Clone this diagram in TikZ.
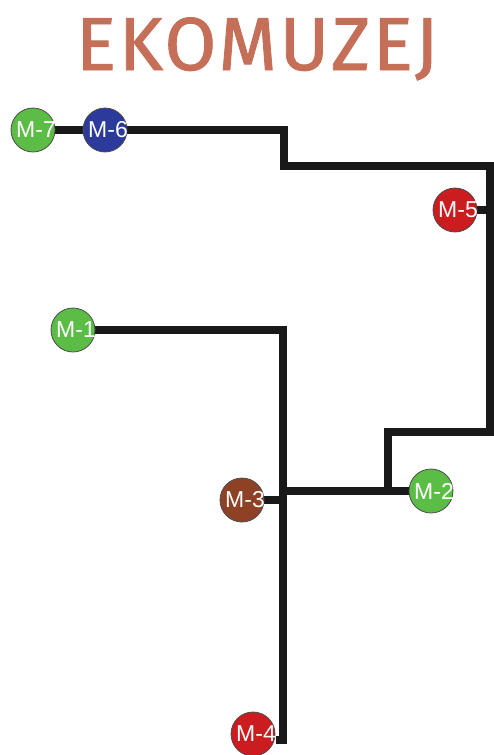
\documentclass[tikz,border=0pt]{standalone}
\usepackage{fontspec}
\setmainfont{Liberation Sans}
\newfontfamily\titlefont[LetterSpace=3.5, FakeBold=1.2]{Fira Sans}
\definecolor{titlecol}{HTML}{C56E58}
\definecolor{mgreen}{HTML}{5CBD46}
\definecolor{mblue}{HTML}{2C3B9B}
\definecolor{mred}{HTML}{CB1C20}
\definecolor{mbrown}{HTML}{8D4226}
\tikzset{
  track/.style={line width=7.5pt, line join=miter, black!90},
  stop/.style={circle, draw=black!70, line width=0.8pt, minimum size=44pt, inner sep=0pt},
  stoplabel/.style={text=white, font=\fontsize{23}{23}\selectfont, inner sep=0pt, xshift=3pt}
}
\begin{document}
\begin{tikzpicture}[x=1pt, y=-1pt]
\useasboundingbox (0,0) rectangle (494,755);
% title
\node[text=titlecol, font=\titlefont\fontsize{75}{75}\selectfont, anchor=base] (title) at (257,70) {EKOMUZEJ};
% stations (positions only)
\coordinate (p7) at (33,130);
\coordinate (p6) at (105,130);
\coordinate (p5) at (455,210);
\coordinate (p1) at (73,330);
\coordinate (p3) at (242,500);
\coordinate (p2) at (431,491);
\coordinate (p4) at (253,734);
% junctions
\coordinate (a) at (284,130);
\coordinate (b) at (284,166);
\coordinate (c) at (500,166);
\coordinate (r) at (490,166);
\coordinate (d) at (490,432);
\coordinate (e) at (388,432);
\coordinate (f) at (388,491);
\coordinate (g) at (283,330);
\coordinate (h) at (283,491);
\coordinate (k) at (283,500);
\coordinate (m) at (283,740);
\coordinate (n) at (276,740);
% tracks
\draw[track] (p7) -- (p6) -- (a) -- (b) -- (c);
\draw[track] (r) -- (d) -- (e) -- (f);
\draw[track] (p5) -- (p5 -| r);
\draw[track] (p1) -- (g) -- (m) -- (n);
\draw[track] (h) -- (p2);
\draw[track] (p3) -- (k);
% stations
\node[stop, fill=mgreen] (m7) at (p7) {};
\node[stop, fill=mblue] (m6) at (p6) {};
\node[stop, fill=mred] (m5) at (p5) {};
\node[stop, fill=mgreen] (m1) at (p1) {};
\node[stop, fill=mbrown] (m3) at (p3) {};
\node[stop, fill=mgreen] (m2) at (p2) {};
\node[stop, fill=mred] (m4) at (p4) {};
% labels
\node[stoplabel] at (m7) {M-7};
\node[stoplabel] at (m6) {M-6};
\node[stoplabel] at (m5) {M-5};
\node[stoplabel] at (m1) {M-1};
\node[stoplabel] at (m3) {M-3};
\node[stoplabel] at (m2) {M-2};
\node[stoplabel] at (m4) {M-4};
\end{tikzpicture}
\end{document}
